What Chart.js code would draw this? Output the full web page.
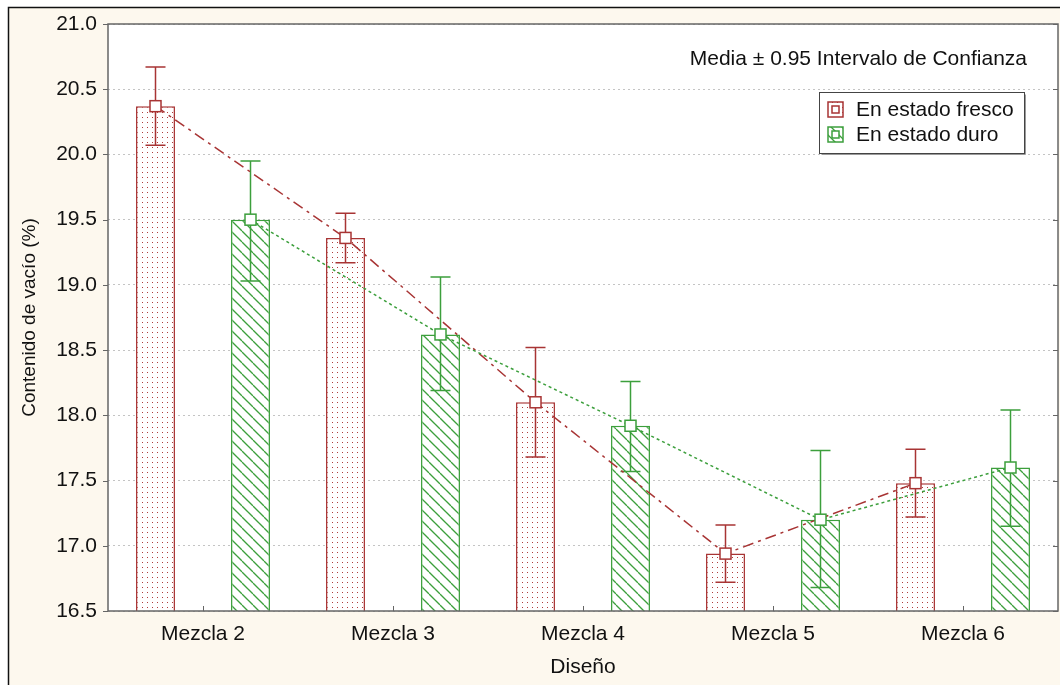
<!DOCTYPE html>
<html>
<head>
<meta charset="utf-8">
<script src="https://cdn.jsdelivr.net/npm/chart.js@4.4.1/dist/chart.umd.min.js"></script>
<style>
  html, body { margin: 0; padding: 0; background: #ffffff; }
  #wrap { width: 1060px; height: 685px; }
</style>
</head>
<body>
<div id="wrap"><canvas id="c" width="1060" height="685"></canvas></div>
<script>
// Categories and series
const categories = ['Mezcla 2', 'Mezcla 3', 'Mezcla 4', 'Mezcla 5', 'Mezcla 6'];
const seriesNames = ['En estado fresco', 'En estado duro'];

// Void content (%) - means and 95% confidence limits
const frescoMedia = [20.37, 19.36, 18.10, 16.94, 17.48];
const frescoSup   = [20.67, 19.55, 18.52, 17.16, 17.74];
const frescoInf   = [20.07, 19.17, 17.68, 16.72, 17.22];

const duroMedia = [19.50, 18.62, 17.92, 17.20, 17.60];
const duroSup   = [19.95, 19.06, 18.26, 17.73, 18.04];
const duroInf   = [19.03, 18.19, 17.57, 16.68, 17.15];

// Value axis
const yMin = 16.5;
const yMax = 21.0;
const yStep = 0.5;

const titleText = 'Media \u00b1 0.95 Intervalo de Confianza';
const yTitle = 'Contenido de vac\u00edo (%)';
const xTitle = 'Dise\u00f1o';

const RED = '#a83434';
const GREEN = '#3c9f3c';
const FONT = '"Liberation Sans", Arial, sans-serif';

function dotPattern(color) {
  const c = document.createElement('canvas');
  c.width = 5; c.height = 5;
  const g = c.getContext('2d');
  g.fillStyle = '#ffffff';
  g.fillRect(0, 0, 5, 5);
  g.fillStyle = color;
  g.fillRect(2, 2, 1, 1);
  return g.createPattern(c, 'repeat');
}

function hatchPattern(color) {
  const s = 11;
  const c = document.createElement('canvas');
  c.width = s; c.height = s;
  const g = c.getContext('2d');
  g.fillStyle = '#ffffff';
  g.fillRect(0, 0, s, s);
  g.strokeStyle = color;
  g.lineWidth = 1.3;
  for (const k of [-s, 0, s]) {
    g.beginPath();
    g.moveTo(k, 0);
    g.lineTo(k + s, s);
    g.stroke();
  }
  return g.createPattern(c, 'repeat');
}

const redFill = dotPattern('#b03c3c');
const greenFill = hatchPattern(GREEN);

// Per-series styling for whiskers and the line joining the means
const seriesStyle = [
  { sup: frescoSup, inf: frescoInf, color: RED, dash: [11, 5, 3, 5] },
  { sup: duroSup, inf: duroInf, color: GREEN, dash: [3, 3] }
];

// Page background, outer frame and white plot area
const backgroundPlugin = {
  id: 'background',
  beforeDraw(chart) {
    const { ctx, width, height, chartArea: a } = chart;
    ctx.save();
    ctx.fillStyle = '#ffffff';
    ctx.fillRect(0, 0, width, height);
    ctx.fillStyle = '#fdf8ee';
    ctx.fillRect(8, 7, width - 8, height - 7);
    ctx.strokeStyle = '#111111';
    ctx.lineWidth = 1.5;
    ctx.beginPath();
    ctx.moveTo(8.5, height);
    ctx.lineTo(8.5, 7.5);
    ctx.lineTo(width, 7.5);
    ctx.stroke();
    ctx.fillStyle = '#ffffff';
    ctx.fillRect(a.left, a.top, a.right - a.left, a.bottom - a.top);
    ctx.restore();
  }
};

// Confidence-interval whiskers, drawn right after each bar dataset
const errorBarPlugin = {
  id: 'errorBars',
  afterDatasetDraw(chart, args) {
    const meta = args.meta;
    const st = seriesStyle[args.index];
    const y = chart.scales.y;
    const { ctx } = chart;
    ctx.save();
    ctx.strokeStyle = st.color;
    ctx.lineWidth = 1.5;
    const cap = 10;
    meta.data.forEach((bar, i) => {
      const x = bar.x;
      const yt = y.getPixelForValue(st.sup[i]);
      const yb = y.getPixelForValue(st.inf[i]);
      ctx.beginPath();
      ctx.moveTo(x, yt); ctx.lineTo(x, yb);
      ctx.moveTo(x - cap, yt); ctx.lineTo(x + cap, yt);
      ctx.moveTo(x - cap, yb); ctx.lineTo(x + cap, yb);
      ctx.stroke();
    });
    ctx.restore();
  }
};

// Lines joining the means of each series, with square markers at the bar tops
const meanLinePlugin = {
  id: 'meanLines',
  afterDatasetsDraw(chart) {
    const { ctx, chartArea: a } = chart;
    ctx.save();
    ctx.beginPath();
    ctx.rect(a.left, a.top, a.right - a.left, a.bottom - a.top);
    ctx.clip();
    const metas = [chart.getDatasetMeta(0), chart.getDatasetMeta(1)];
    metas.forEach((meta, k) => {
      const st = seriesStyle[k];
      ctx.strokeStyle = st.color;
      ctx.lineWidth = 1.5;
      ctx.setLineDash(st.dash);
      ctx.beginPath();
      meta.data.forEach((bar, i) => {
        if (i === 0) ctx.moveTo(bar.x, bar.y); else ctx.lineTo(bar.x, bar.y);
      });
      ctx.stroke();
    });
    ctx.setLineDash([]);
    metas.forEach((meta, k) => {
      const st = seriesStyle[k];
      ctx.strokeStyle = st.color;
      ctx.fillStyle = '#ffffff';
      ctx.lineWidth = 1.5;
      const h = 5.5;
      meta.data.forEach((bar) => {
        ctx.fillRect(bar.x - h, bar.y - h, 2 * h, 2 * h);
        ctx.strokeRect(bar.x - h, bar.y - h, 2 * h, 2 * h);
      });
    });
    ctx.restore();
  }
};

// Plot frame, tick marks, caption and legend
const framePlugin = {
  id: 'frame',
  afterDraw(chart) {
    const { ctx, chartArea: a, scales } = chart;
    ctx.save();
    ctx.strokeStyle = '#666666';
    ctx.lineWidth = 1.5;
    ctx.strokeRect(a.left, a.top, a.right - a.left, a.bottom - a.top);

    ctx.lineWidth = 1;
    ctx.beginPath();
    scales.y.ticks.forEach((t) => {
      const py = Math.round(scales.y.getPixelForValue(t.value)) + 0.5;
      ctx.moveTo(a.left - 5, py); ctx.lineTo(a.left, py);
      ctx.moveTo(a.right - 5, py); ctx.lineTo(a.right, py);
    });
    categories.forEach((c, i) => {
      const px = Math.round(scales.x.getPixelForValue(i)) + 0.5;
      ctx.moveTo(px, a.bottom); ctx.lineTo(px, a.bottom - 5);
    });
    ctx.stroke();

    // caption
    ctx.fillStyle = '#111111';
    ctx.font = '21px ' + FONT;
    ctx.textAlign = 'right';
    ctx.textBaseline = 'middle';
    ctx.fillText(titleText, 1027, 59);

    // legend
    const bx = 819.5, by = 92.5, bw = 205, bh = 61;
    ctx.fillStyle = '#ffffff';
    ctx.fillRect(bx, by, bw, bh);
    ctx.strokeStyle = '#9a9a9a';
    ctx.lineWidth = 1;
    ctx.beginPath();
    ctx.moveTo(bx + 2, by + bh + 1); ctx.lineTo(bx + bw + 1, by + bh + 1); ctx.lineTo(bx + bw + 1, by + 2);
    ctx.stroke();
    ctx.strokeStyle = '#444444';
    ctx.strokeRect(bx, by, bw, bh);

    const items = [
      { label: seriesNames[0], fill: redFill, color: RED, cy: 110 },
      { label: seriesNames[1], fill: greenFill, color: GREEN, cy: 135 }
    ];
    items.forEach((it) => {
      const ix = 828, iy = it.cy - 8, s = 15;
      ctx.fillStyle = it.fill;
      ctx.fillRect(ix, iy, s, s);
      ctx.strokeStyle = it.color;
      ctx.lineWidth = 1.5;
      ctx.strokeRect(ix, iy, s, s);
      ctx.fillStyle = '#ffffff';
      ctx.fillRect(ix + 4, iy + 4, 7, 7);
      ctx.strokeRect(ix + 4, iy + 4, 7, 7);
      ctx.fillStyle = '#111111';
      ctx.font = '21px ' + FONT;
      ctx.textAlign = 'left';
      ctx.textBaseline = 'middle';
      ctx.fillText(it.label, 856, it.cy);
    });
    ctx.restore();
  }
};

new Chart(document.getElementById('c'), {
  type: 'bar',
  data: {
    labels: categories,
    datasets: [
      {
        label: seriesNames[0], data: frescoMedia,
        backgroundColor: redFill, borderColor: RED, borderWidth: 1.5,
        categoryPercentage: 1.0, barPercentage: 0.41
      },
      {
        label: seriesNames[1], data: duroMedia,
        backgroundColor: greenFill, borderColor: GREEN, borderWidth: 1.5,
        categoryPercentage: 1.0, barPercentage: 0.41
      }
    ]
  },
  options: {
    responsive: false,
    animation: false,
    devicePixelRatio: 1,
    layout: { padding: { left: 0, right: 2, top: 24, bottom: 0 } },
    plugins: { legend: { display: false }, tooltip: { enabled: false } },
    scales: {
      x: {
        type: 'category',
        offset: true,
        grid: { display: false, drawTicks: false },
        border: { display: false },
        ticks: { color: '#111111', font: { family: FONT, size: 21 }, padding: 11, maxRotation: 0 },
        title: { display: true, text: xTitle, color: '#111111', font: { family: FONT, size: 21 }, padding: { top: 0, bottom: 5 } },
        afterFit: (s) => { s.height = 74; }
      },
      y: {
        min: yMin, max: yMax,
        ticks: {
          stepSize: yStep, color: '#111111', padding: 11,
          font: { family: FONT, size: 21 },
          callback: (v) => Number(v).toFixed(1)
        },
        grid: { color: '#c4c4c4', lineWidth: 1, drawTicks: false },
        border: { display: false, dash: [2, 3] },
        title: { display: true, text: yTitle, color: '#111111', font: { family: FONT, size: 19 }, padding: { top: 18, bottom: 0 } },
        afterFit: (s) => { s.width = 108; }
      }
    }
  },
  plugins: [backgroundPlugin, errorBarPlugin, meanLinePlugin, framePlugin]
});
</script>
</body>
</html>
